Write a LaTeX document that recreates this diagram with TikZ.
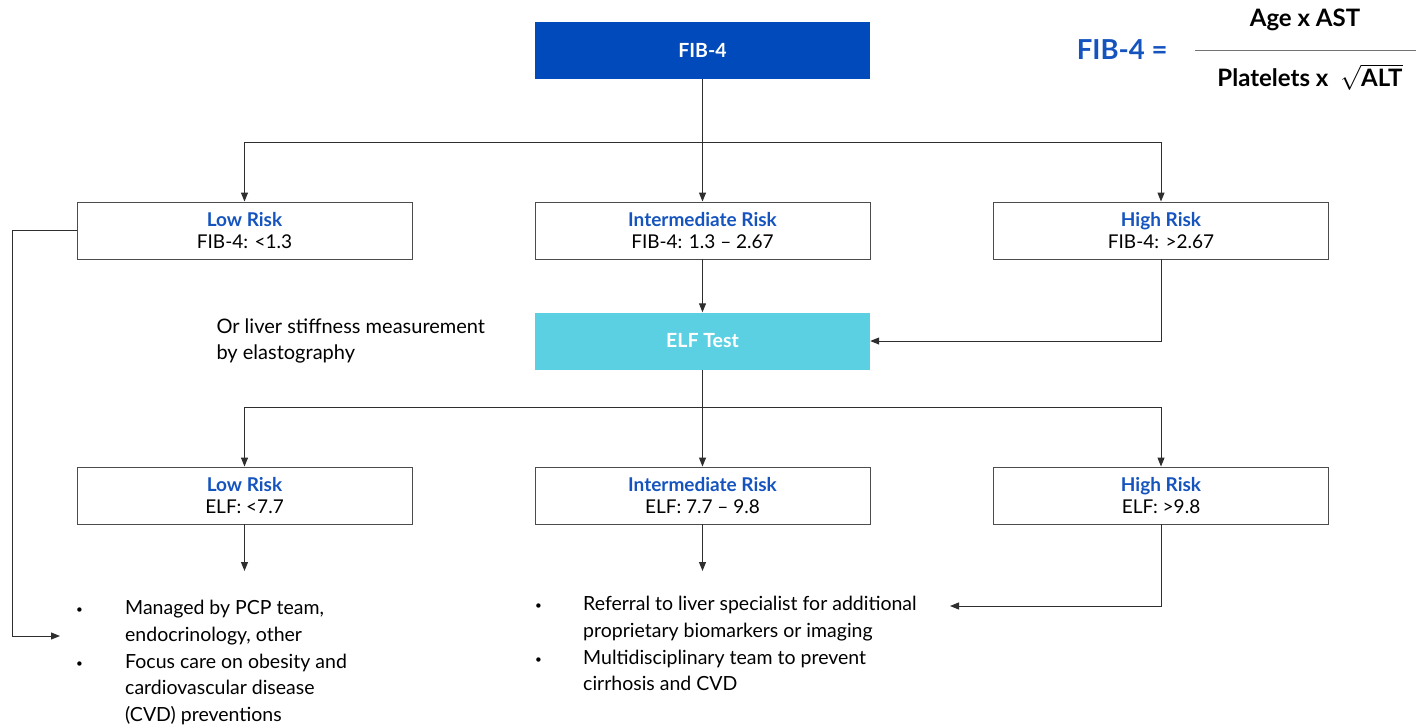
\documentclass[tikz,border=0pt]{standalone}
\usepackage{fontspec}
\setmainfont{Lato}
\usetikzlibrary{positioning,arrows.meta}

\definecolor{fibblue}{HTML}{004ABB}
\definecolor{titleblue}{HTML}{1554BE}
\definecolor{elfcyan}{HTML}{5BD0E3}
\definecolor{linegray}{HTML}{2E2E2E}

\tikzset{
  riskbox/.style={draw=black!70, line width=0.9pt, minimum width=335pt, minimum height=57pt,
    inner sep=0pt, align=center, font=\fontsize{19}{22}\selectfont},
  headbox/.style={minimum width=335pt, minimum height=57pt, inner sep=0pt,
    text=white, font=\fontsize{19.5}{22}\selectfont\bfseries},
  flow/.style={draw=linegray, line width=1pt, -{Triangle[length=9pt,width=7pt]}},
  bullets/.style={anchor=north west, align=left, inner sep=0pt, font=\fontsize{19.5}{26.8}\selectfont}
}

\newcommand{\risk}[2]{{\color{titleblue}\bfseries #1}\\#2}
\newcommand{\itm}[1]{\makebox[#1][l]{\raisebox{1pt}{\scalebox{0.6}{\textbullet}}}}
\newcommand{\gap}[1]{\makebox[#1][l]{}}

\begin{document}
\begin{tikzpicture}[x=1pt, y=-1pt]
  \useasboundingbox (0,0) rectangle (1424,728);

  % Top box and the formula
  \node[headbox, fill=fibblue] (fib) at (702.5,50.5) {FIB-4};
  \node[text=titleblue, font=\fontsize{27.5}{30}\selectfont\bfseries, anchor=east] (fibeq) at (1171,50) {FIB-4 =};
  \node[font=\fontsize{24}{26}\selectfont\bfseries] (num) at (1305,20) {Age x AST};
  \node[font=\fontsize{24}{26}\selectfont\bfseries] (den) at (1310,77) {Platelets x\enspace$\sqrt{\mbox{ALT}}$};
  \draw[black!55, line width=0.9pt] (1195,50) -- (1416,50);

  % First row of risk boxes
  \node[riskbox] (low1) at (244.5,230.5) {\risk{Low Risk}{FIB-4: <1.3}};
  \node[riskbox] (mid1) at (702.5,230.5) {\risk{Intermediate Risk}{FIB-4: 1.3 -- 2.67}};
  \node[riskbox] (high1) at (1161,230.5) {\risk{High Risk}{FIB-4: >2.67}};

  % ELF test
  \node[headbox, fill=elfcyan] (elf) at (702.5,341) {ELF Test};
  \node[anchor=west, align=left, font=\fontsize{20}{26}\selectfont] (note) at (213,341)
    {Or liver stiffness measurement\\by elastography};

  % Second row of risk boxes
  \node[riskbox] (low2) at (244.5,495.5) {\risk{Low Risk}{ELF: <7.7}};
  \node[riskbox] (mid2) at (702.5,495.5) {\risk{Intermediate Risk}{ELF: 7.7 -- 9.8}};
  \node[riskbox] (high2) at (1161,495.5) {\risk{High Risk}{ELF: >9.8}};

  % Outcome lists
  \node[bullets] (care) at (76,600) {%
    \itm{49pt}Managed by PCP team,\\
    \gap{49pt}endocrinology, other\\
    \itm{49pt}Focus care on obesity and\\
    \gap{49pt}cardiovascular disease\\
    \gap{49pt}(CVD) preventions};
  \node[bullets] (refer) at (535,596) {%
    \itm{48pt}Referral to liver specialist for additional\\
    \gap{48pt}proprietary biomarkers or imaging\\
    \itm{48pt}Multidisciplinary team to prevent\\
    \gap{48pt}cirrhosis and CVD};

  % Connectors
  \coordinate (split1) at (702.5,142);
  \coordinate (split2) at (702.5,407);
  \draw[linegray, line width=1pt] (fib.south) -- (split1);
  \draw[flow] (split1) -| (low1.north);
  \draw[flow] (split1) -- (mid1.north);
  \draw[flow] (split1) -| (high1.north);

  \draw[flow] (mid1.south) -- (elf.north);
  \draw[flow] (high1.south) |- (elf.east);

  \draw[linegray, line width=1pt] (elf.south) -- (split2);
  \draw[flow] (split2) -| (low2.north);
  \draw[flow] (split2) -- (mid2.north);
  \draw[flow] (split2) -| (high2.north);

  \coordinate (lowend) at (244.5,571);
  \coordinate (midend) at (702.5,571);
  \coordinate (highend) at (950,606);
  \coordinate (leftend) at (60,636);
  \draw[flow] (low2.south) -- (lowend);
  \draw[flow] (mid2.south) -- (midend);
  \draw[flow] (high2.south) |- (highend);
  \draw[flow] (low1.west) -- (12,230.5) |- (leftend);
\end{tikzpicture}
\end{document}
